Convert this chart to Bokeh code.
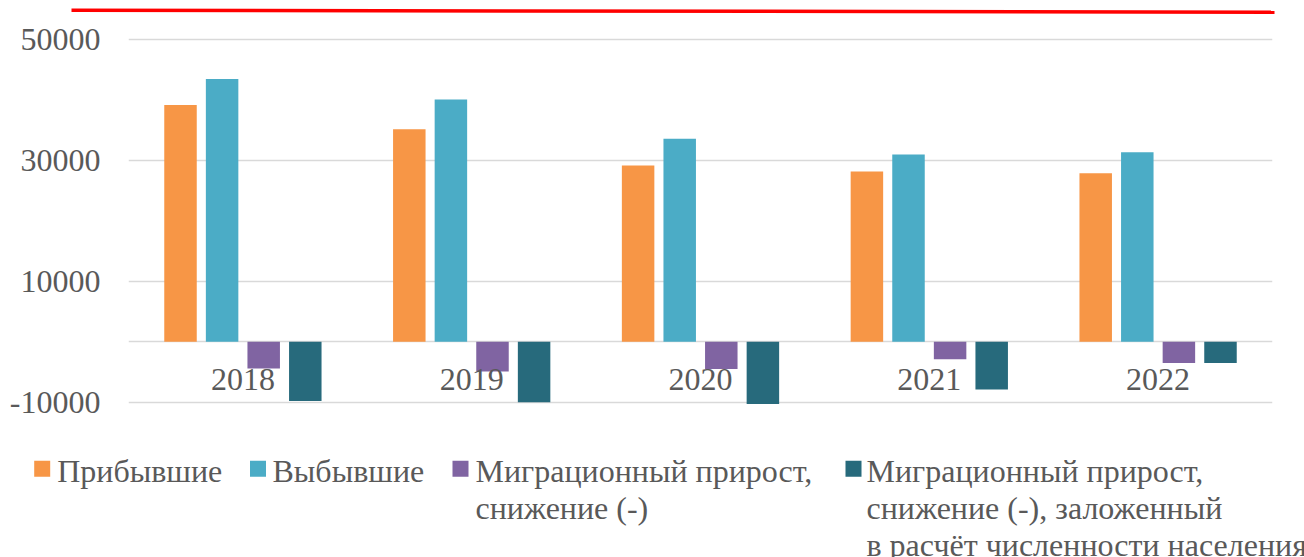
from bokeh.plotting import figure
from bokeh.layouts import column
from bokeh.models import FactorRange, Range1d, FixedTicker, ColumnDataSource
from bokeh.transform import dodge
from bokeh.core.properties import value
from bokeh.embed import file_html
from bokeh.resources import INLINE

# ---------------- data ----------------
years = ["2018", "2019", "2020", "2021", "2022"]
arrived = [39200, 35200, 29200, 28200, 27900]          # Прибывшие
departed = [43500, 40100, 33600, 31000, 31400]         # Выбывшие
migration = [-4400, -4900, -4500, -2900, -3500]        # Миграционный прирост
migration_calc = [-9800, -10000, -10300, -7900, -3500] # ... заложенный в расчёт
series_labels = [
    "Прибывшие",
    "Выбывшие",
    "Миграционный прирост,\nснижение (-)",
    "Миграционный прирост,\nснижение (-), заложенный\nв расчёт численности населения",
]
colors = ["#F79646", "#4BACC6", "#8064A2", "#276A7C"]
y_ticks = [-10000, 10000, 30000, 50000]
y_tick_labels = ["-10000", "10000", "30000", "50000"]
grid_values = [-10000, 0, 10000, 30000, 50000]

FONT = "Liberation Serif"
TXT = "#595959"
W = 1304

def clean(fig):
    fig.outline_line_color = None
    fig.background_fill_color = "white"
    fig.border_fill_color = "white"
    fig.frame_align = False
    return fig

# ---------------- top red rule ----------------
TH = 20
top = clean(figure(width=W, height=TH, x_range=Range1d(0, W), y_range=Range1d(TH, 0),
                   output_backend="svg", toolbar_location=None,
                   min_border=0, min_border_left=0, min_border_right=0,
                   min_border_top=0, min_border_bottom=0))
top.axis.visible = False
top.grid.visible = False
top.segment(x0=71, y0=9.7, x1=1274, y1=11.7, line_color="#FF0000", line_width=3.5)

# ---------------- main chart ----------------
src = ColumnDataSource(dict(year=years, a=arrived, d=departed, m=migration, mc=migration_calc))
p = clean(figure(width=W, height=420,
                 x_range=FactorRange(*years, range_padding=0, factor_padding=0),
                 y_range=Range1d(-16341, 53195),
                 output_backend="svg", toolbar_location=None,
                 min_border_left=128, min_border_right=32,
                 min_border_top=0, min_border_bottom=0))

offsets = [-0.2727, -0.0909, 0.0909, 0.2727]
for key, off, col in zip(["a", "d", "m", "mc"], offsets, colors):
    p.vbar(x=dodge("year", off, range=p.x_range), top=key, bottom=0, width=0.142,
           source=src, fill_color=col, line_color=None)

p.xaxis.visible = False
p.xgrid.visible = False
p.ygrid.ticker = FixedTicker(ticks=grid_values)
p.ygrid.grid_line_color = "#d9d9d9"
p.ygrid.grid_line_width = 1.5

ya = p.yaxis[0]
ya.ticker = FixedTicker(ticks=y_ticks)
ya.major_label_overrides = {t: l for t, l in zip(y_ticks, y_tick_labels)}
ya.axis_line_color = None
ya.major_tick_line_color = None
ya.minor_tick_line_color = None
ya.major_tick_in = 0
ya.major_tick_out = 0
ya.major_label_standoff = 28
ya.major_label_text_font = FONT
ya.major_label_text_font_size = "32px"
ya.major_label_text_color = TXT

p.text(x=years, y=[0] * len(years), text=years, text_font=value(FONT),
       text_font_size="32px", text_color=TXT, text_align="center",
       text_baseline="alphabetic", y_offset=38)

# ---------------- legend ----------------
LH = 117
leg = clean(figure(width=W, height=LH, x_range=Range1d(0, W), y_range=Range1d(LH, 0),
                   output_backend="svg", toolbar_location=None,
                   min_border=0, min_border_left=0, min_border_right=0,
                   min_border_top=0, min_border_bottom=0))
leg.axis.visible = False
leg.grid.visible = False

sq_x = [41.7, 257.5, 460, 853]
tx_x = [56.7, 272, 475, 866]
line_gap = 37
for lab, col, sx, tx in zip(series_labels, colors, sq_x, tx_x):
    leg.rect(x=[sx], y=[28.3], width=16, height=16, fill_color=col, line_color=None)
    lines = lab.split("\n")
    leg.text(x=[tx] * len(lines), y=[30 + i * line_gap for i in range(len(lines))],
             text=lines, text_font=value(FONT), text_font_size="32px",
             text_color=TXT, text_align="left", text_baseline="alphabetic")

layout = column(top, p, leg, spacing=0)
open("out.html", "w").write(file_html(layout, INLINE))
